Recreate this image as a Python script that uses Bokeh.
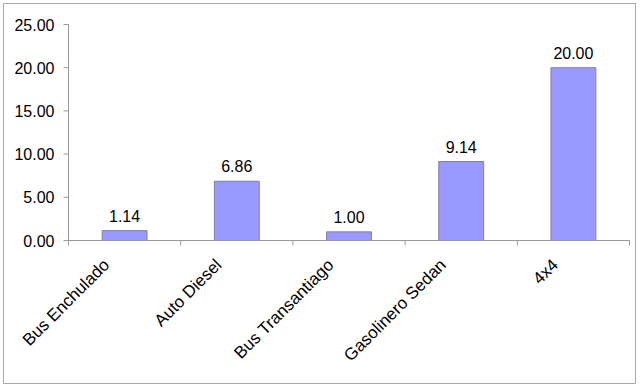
from bokeh.plotting import figure
from bokeh.models import Range1d, ColumnDataSource, LabelSet
from bokeh.core.properties import value
from bokeh.embed import file_html
from bokeh.resources import INLINE
import math

categories = ["Bus Enchulado", "Auto Diesel", "Bus Transantiago", "Gasolinero Sedan", "4x4"]
values = [1.14, 6.86, 1.00, 9.14, 20.00]
y_ticks = [0, 5, 10, 15, 20, 25]

FONT = "Liberation Sans"
AXIS = "#999999"

# layout (pixels) -- whole canvas is the frame, chart area placed inside it
W, H = 633, 381
PLOT_L, PLOT_T, PLOT_W, PLOT_H = 65, 21, 561, 216
n = len(categories)
y_max = y_ticks[-1]
px_x = PLOT_W / n
px_y = PLOT_H / y_max
x_range = Range1d(-PLOT_L / px_x, n + (W - PLOT_L - PLOT_W) / px_x)
y_range = Range1d(-(H - PLOT_T - PLOT_H) / px_y, y_max + PLOT_T / px_y)

xs = [i + 0.5 for i in range(n)]
src = ColumnDataSource(dict(x=xs, top=values, y0=[0] * n,
                            lab=["%.2f" % v for v in values], cat=categories))
tick_src = ColumnDataSource(dict(y=y_ticks, x0=[0] * len(y_ticks), lab=["%.2f" % t for t in y_ticks]))
xb = list(range(n + 1))

p = figure(width=W, height=H, x_range=x_range, y_range=y_range,
           x_axis_type=None, y_axis_type=None,
           output_backend="svg", toolbar_location=None,
           min_border=0, min_border_left=0, min_border_right=0, min_border_top=0, min_border_bottom=0)
p.styles = {"position": "absolute", "left": "3px", "top": "3px"}
p.outline_line_color = "#a8a8a8"
p.outline_line_width = 1
p.xgrid.visible = False
p.ygrid.visible = False

# bars
p.vbar(x="x", top="top", width=0.4, source=src, fill_color="#9999FF", line_color="#8080a0", line_width=1)

# axis lines and ticks
p.segment(x0=[0], y0=[0], x1=[0], y1=[y_max], line_color=AXIS, line_width=1)
p.segment(x0=[0], y0=[0], x1=[n], y1=[0], line_color=AXIS, line_width=1)
p.ray(x="x0", y="y", length=5, length_units="screen", angle=math.pi, source=tick_src,
      line_color=AXIS, line_width=1)
p.ray(x=xb, y=[0] * len(xb), length=5, length_units="screen", angle=-math.pi / 2,
      line_color=AXIS, line_width=1)

# y tick labels
ylabels = LabelSet(x="x0", y="y", text="lab", source=tick_src, x_offset=-14, text_align="right",
                   text_baseline="middle", text_font=value(FONT), text_font_size=value("16px"),
                   text_color="black")
p.add_layout(ylabels)

# value labels
labels = LabelSet(x="x", y="top", text="lab", source=src, y_offset=9, text_align="center",
                  text_baseline="alphabetic", text_font=value(FONT), text_font_size=value("16px"),
                  text_color="black")
p.add_layout(labels)

# rotated category labels: offsets are applied in the rotated frame
ang = math.pi / 4
dx, dy = -7, 28   # desired screen offset of label's top-right corner (right, down)
ox = dx * math.cos(ang) - dy * math.sin(ang)
oy = dx * math.sin(ang) + dy * math.cos(ang)
cat_labels = LabelSet(x="x", y="y0", text="cat", source=src, x_offset=ox, y_offset=-oy,
                      angle=ang, text_align="right", text_baseline="top",
                      text_font=value(FONT), text_font_size=value("17px"), text_color="black")
p.add_layout(cat_labels)

open("out.html", "w").write(file_html(p, INLINE))
